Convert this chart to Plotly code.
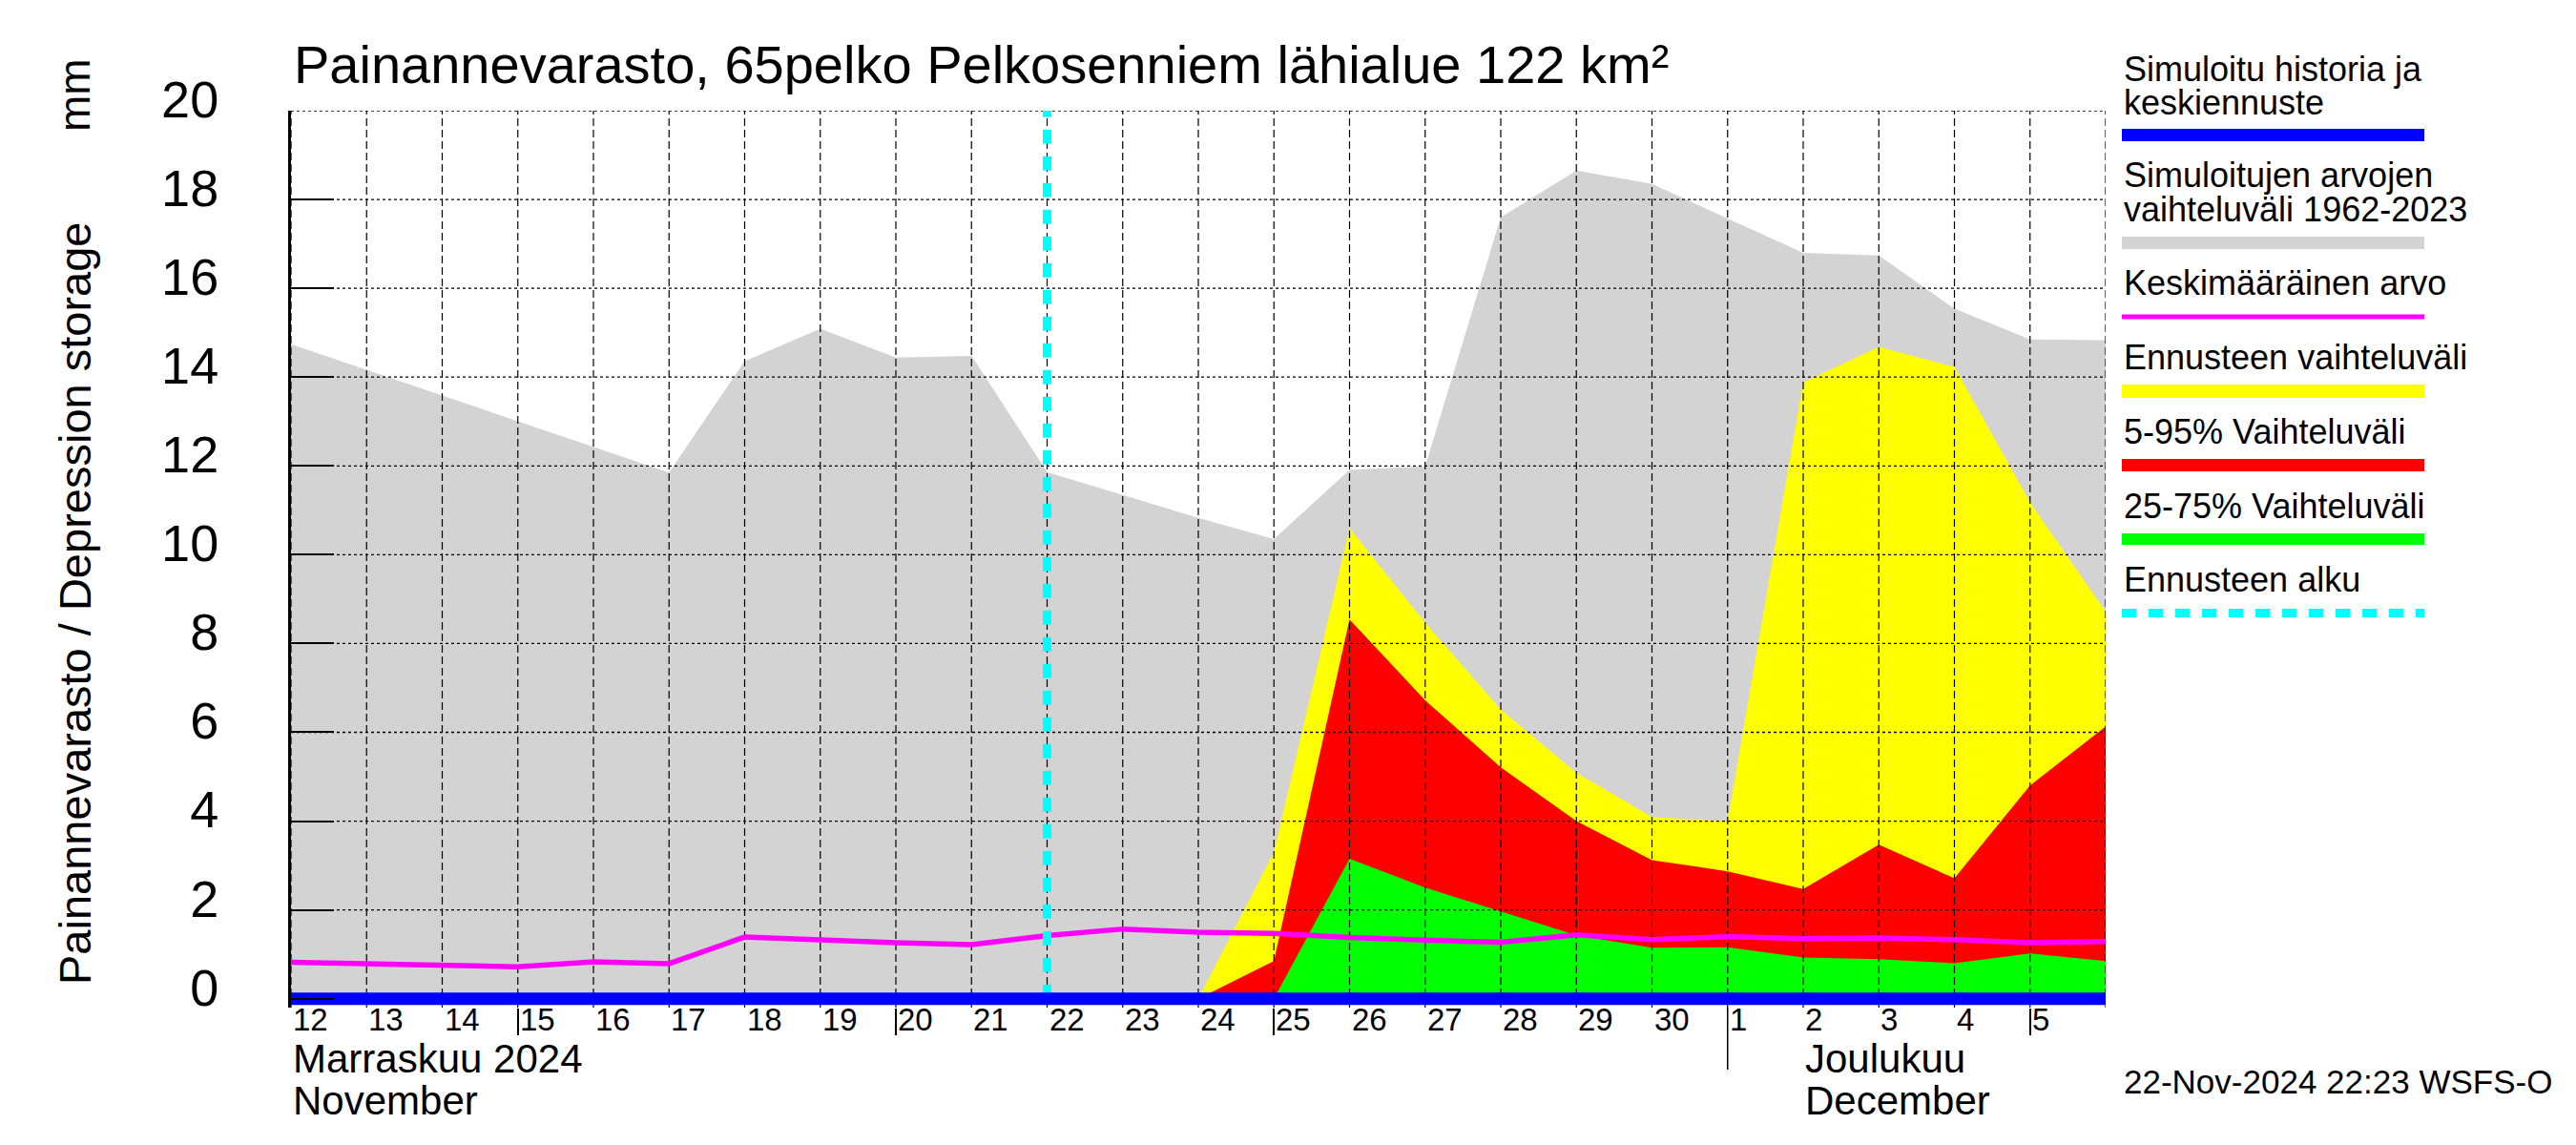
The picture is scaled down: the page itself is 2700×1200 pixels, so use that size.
import plotly.graph_objects as go
import pandas as pd

# ---------------- data ----------------
dates = [d.strftime("%Y-%m-%d") for d in pd.date_range("2024-11-12", "2024-12-06", freq="D")]

# Simuloitujen arvojen vaihteluväli 1962-2023 (upper bound, lower bound = 0)
sim_range_max = [14.74, 14.16, 13.58, 13.00, 12.43, 11.85, 14.36, 15.09, 14.44, 14.48,
                 11.86, 11.35, 10.83, 10.35, 11.91, 11.99, 17.60, 18.65, 18.35, 17.57,
                 16.80, 16.74, 15.54, 14.85, 14.83]

# Keskimääräinen arvo
mean_values = [0.82, 0.79, 0.75, 0.72, 0.83, 0.79, 1.39, 1.32, 1.26, 1.22,
               1.42, 1.57, 1.50, 1.47, 1.38, 1.32, 1.27, 1.44, 1.33, 1.40,
               1.35, 1.37, 1.33, 1.26, 1.29]

# Simuloitu historia ja keskiennuste
sim_history = [0.0] * 25

# Forecast bands
forecast_dates = [d.strftime("%Y-%m-%d") for d in pd.date_range("2024-11-24", "2024-12-06", freq="D")]
forecast_max = [0.0, 3.3, 10.6, 8.47, 6.51, 5.09, 4.09, 4.0, 13.88, 14.68, 14.23, 11.18, 8.72]
forecast_p95 = [0.0, 0.85, 8.54, 6.72, 5.21, 4.0, 3.12, 2.87, 2.47, 3.47, 2.71, 4.8, 6.13]
p75_dates = [d.strftime("%Y-%m-%d") for d in pd.date_range("2024-11-25", "2024-12-06", freq="D")]
forecast_p75 = [0.0, 3.15, 2.5, 1.96, 1.43, 1.15, 1.16, 0.93, 0.89, 0.80, 1.02, 0.85]

forecast_start = "2024-11-22"

day_labels = ["12", "13", "14", "15", "16", "17", "18", "19", "20", "21", "22", "23",
              "24", "25", "26", "27", "28", "29", "30", "1", "2", "3", "4", "5"]
y_ticks = [0, 2, 4, 6, 8, 10, 12, 14, 16, 18, 20]
x_tick_marks = ["2024-11-15", "2024-11-20", "2024-11-25", "2024-12-05"]
month_start = "2024-12-01"
month_labels = [("2024-11-12", "Marraskuu 2024", "November"),
                ("2024-12-02", "Joulukuu", "December")]

title = "Painannevarasto, 65pelko Pelkosenniem lähialue 122 km²"
y_label = "Painannevarasto / Depression storage"
y_unit = "mm"
timestamp = "22-Nov-2024 22:23 WSFS-O"

legend_items = [
    (["Simuloitu historia ja", "keskiennuste"], "#0000FF", 13, "solid"),
    (["Simuloitujen arvojen", "vaihteluväli 1962-2023"], "#D3D3D3", 13, "solid"),
    (["Keskimääräinen arvo"], "#FF00FF", 5, "solid"),
    (["Ennusteen vaihteluväli"], "#FFFF00", 14, "solid"),
    (["5-95% Vaihteluväli"], "#FF0000", 13, "solid"),
    (["25-75% Vaihteluväli"], "#00FF00", 12, "solid"),
    (["Ennusteen alku"], "#00FFFF", 9, "15px,13px"),
]

# ---------------- layout geometry ----------------
W, H = 2700, 1200
L, R, T, B = 305, 2207, 116, 1056
Y_MIN, Y_MAX = -0.2, 20
FONT = "Liberation Sans, Arial, Helvetica, sans-serif"


def px(x):
    return (x - L) / (R - L)


def py(y):
    return (B - y) / (B - T)


fig = go.Figure()

# grey historical range
fig.add_trace(go.Scatter(x=dates, y=sim_range_max, mode="lines", fill="tozeroy",
                         fillcolor="#D3D3D3", line=dict(width=0, color="#D3D3D3"),
                         hoverinfo="skip"))
# forecast bands
fig.add_trace(go.Scatter(x=forecast_dates, y=forecast_max, mode="lines", fill="tozeroy",
                         fillcolor="#FFFF00", line=dict(width=0, color="#FFFF00"),
                         hoverinfo="skip"))
fig.add_trace(go.Scatter(x=forecast_dates, y=forecast_p95, mode="lines", fill="tozeroy",
                         fillcolor="#FF0000", line=dict(width=0, color="#FF0000"),
                         hoverinfo="skip"))
fig.add_trace(go.Scatter(x=p75_dates, y=forecast_p75, mode="lines", fill="tozeroy",
                         fillcolor="#00FF00", line=dict(width=0, color="#00FF00"),
                         hoverinfo="skip"))

# grid lines drawn above fills
gx, gy = [], []
for d in dates:
    gx += [d, d, None]
    gy += [Y_MIN, Y_MAX, None]
fig.add_trace(go.Scatter(x=gx, y=gy, mode="lines",
                         line=dict(color="black", width=1.2, dash="8px,4px"),
                         hoverinfo="skip"))
hx, hy = [], []
for v in y_ticks:
    hx += [dates[0], dates[-1], None]
    hy += [v, v, None]
fig.add_trace(go.Scatter(x=hx, y=hy, mode="lines",
                         line=dict(color="black", width=1.3, dash="3px,3px"),
                         hoverinfo="skip"))

# mean line
fig.add_trace(go.Scatter(x=dates, y=mean_values, mode="lines",
                         line=dict(color="#FF00FF", width=5.5), hoverinfo="skip"))
# forecast start
fig.add_trace(go.Scatter(x=[forecast_start, forecast_start], y=[0, Y_MAX], mode="lines",
                         line=dict(color="#00FFFF", width=9, dash="15px,13px"),
                         hoverinfo="skip"))
# simulated history
fig.add_trace(go.Scatter(x=dates, y=sim_history, mode="lines",
                         line=dict(color="#0000FF", width=13), hoverinfo="skip"))

annotations = []
shapes = []

# title
annotations.append(dict(text=title, xref="paper", yref="paper", x=px(306), y=py(67.5),
                        xanchor="left", yanchor="middle", showarrow=False,
                        font=dict(family=FONT, size=56, color="black")))
# y label
annotations.append(dict(text=y_label, xref="paper", yref="paper", x=px(78), y=py(633),
                        xanchor="center", yanchor="middle", textangle=-90, showarrow=False,
                        font=dict(family=FONT, size=47, color="black")))
annotations.append(dict(text=y_unit, xref="paper", yref="paper", x=px(78), y=py(100),
                        xanchor="center", yanchor="middle", textangle=-90, showarrow=False,
                        font=dict(family=FONT, size=46, color="black")))

# day labels (left-aligned at start of each day)
for d, lab in zip(dates[:-1], day_labels):
    annotations.append(dict(text=lab, xref="x", yref="paper", x=d, y=py(1068.5),
                            xanchor="left", yanchor="middle", xshift=0, showarrow=False,
                            font=dict(family=FONT, size=33, color="black")))
# month labels
for d, fi, en in month_labels:
    annotations.append(dict(text=fi, xref="x", yref="paper", x=d, y=py(1109),
                            xanchor="left", yanchor="middle", showarrow=False,
                            font=dict(family=FONT, size=42, color="black")))
    annotations.append(dict(text=en, xref="x", yref="paper", x=d, y=py(1153),
                            xanchor="left", yanchor="middle", showarrow=False,
                            font=dict(family=FONT, size=42, color="black")))
# month start long tick
shapes.append(dict(type="line", xref="x", yref="paper", x0=month_start, x1=month_start,
                   y0=py(B), y1=py(1121), line=dict(color="black", width=1.5)))

# timestamp
annotations.append(dict(text=timestamp, xref="paper", yref="paper", x=px(2224), y=py(1133),
                        xanchor="left", yanchor="middle", showarrow=False,
                        font=dict(family=FONT, size=35, color="black")))

# legend (right side)
text_baselines = [[85, 120], [196, 232], [309], [387], [465], [543], [620]]
bar_centers = [141.5, 254.5, 332, 410, 487.5, 565, 642.5]
for (lines, color, lw, dash), bls, bc in zip(legend_items, text_baselines, bar_centers):
    for txt, bl in zip(lines, bls):
        annotations.append(dict(text=txt, xref="paper", yref="paper", x=px(2224),
                                y=py(bl - 12.5), xanchor="left", yanchor="middle",
                                showarrow=False,
                                font=dict(family=FONT, size=36, color="black")))
    shapes.append(dict(type="line", xref="paper", yref="paper", x0=px(2224), x1=px(2541),
                       y0=py(bc), y1=py(bc), line=dict(color=color, width=lw, dash=dash)))

fig.update_layout(
    width=W, height=H,
    margin=dict(l=L, r=W - R, t=T, b=H - B, pad=0),
    plot_bgcolor="white", paper_bgcolor="white",
    showlegend=False,
    annotations=annotations,
    shapes=shapes,
    font=dict(family=FONT, color="black"),
)
fig.update_xaxes(type="date", range=[dates[0], dates[-1]], showgrid=False, zeroline=False,
                 showline=False, showticklabels=False, tickvals=x_tick_marks,
                 ticks="outside", ticklen=28, tickwidth=1.5, tickcolor="black")
fig.update_yaxes(range=[Y_MIN, Y_MAX], showgrid=False, zeroline=False,
                 showline=True, linewidth=3, linecolor="black",
                 tickvals=y_ticks, ticktext=[str(v) for v in y_ticks],
                 ticks="inside", ticklen=45, tickwidth=2, tickcolor="black",
                 tickfont=dict(family=FONT, size=54, color="black"),
                 ticklabelstandoff=62, ticklabelshift=-12)

fig.write_html("out.html", config={"displayModeBar": False},
               post_script="document.body.style.margin='0';document.body.style.padding='0';")
